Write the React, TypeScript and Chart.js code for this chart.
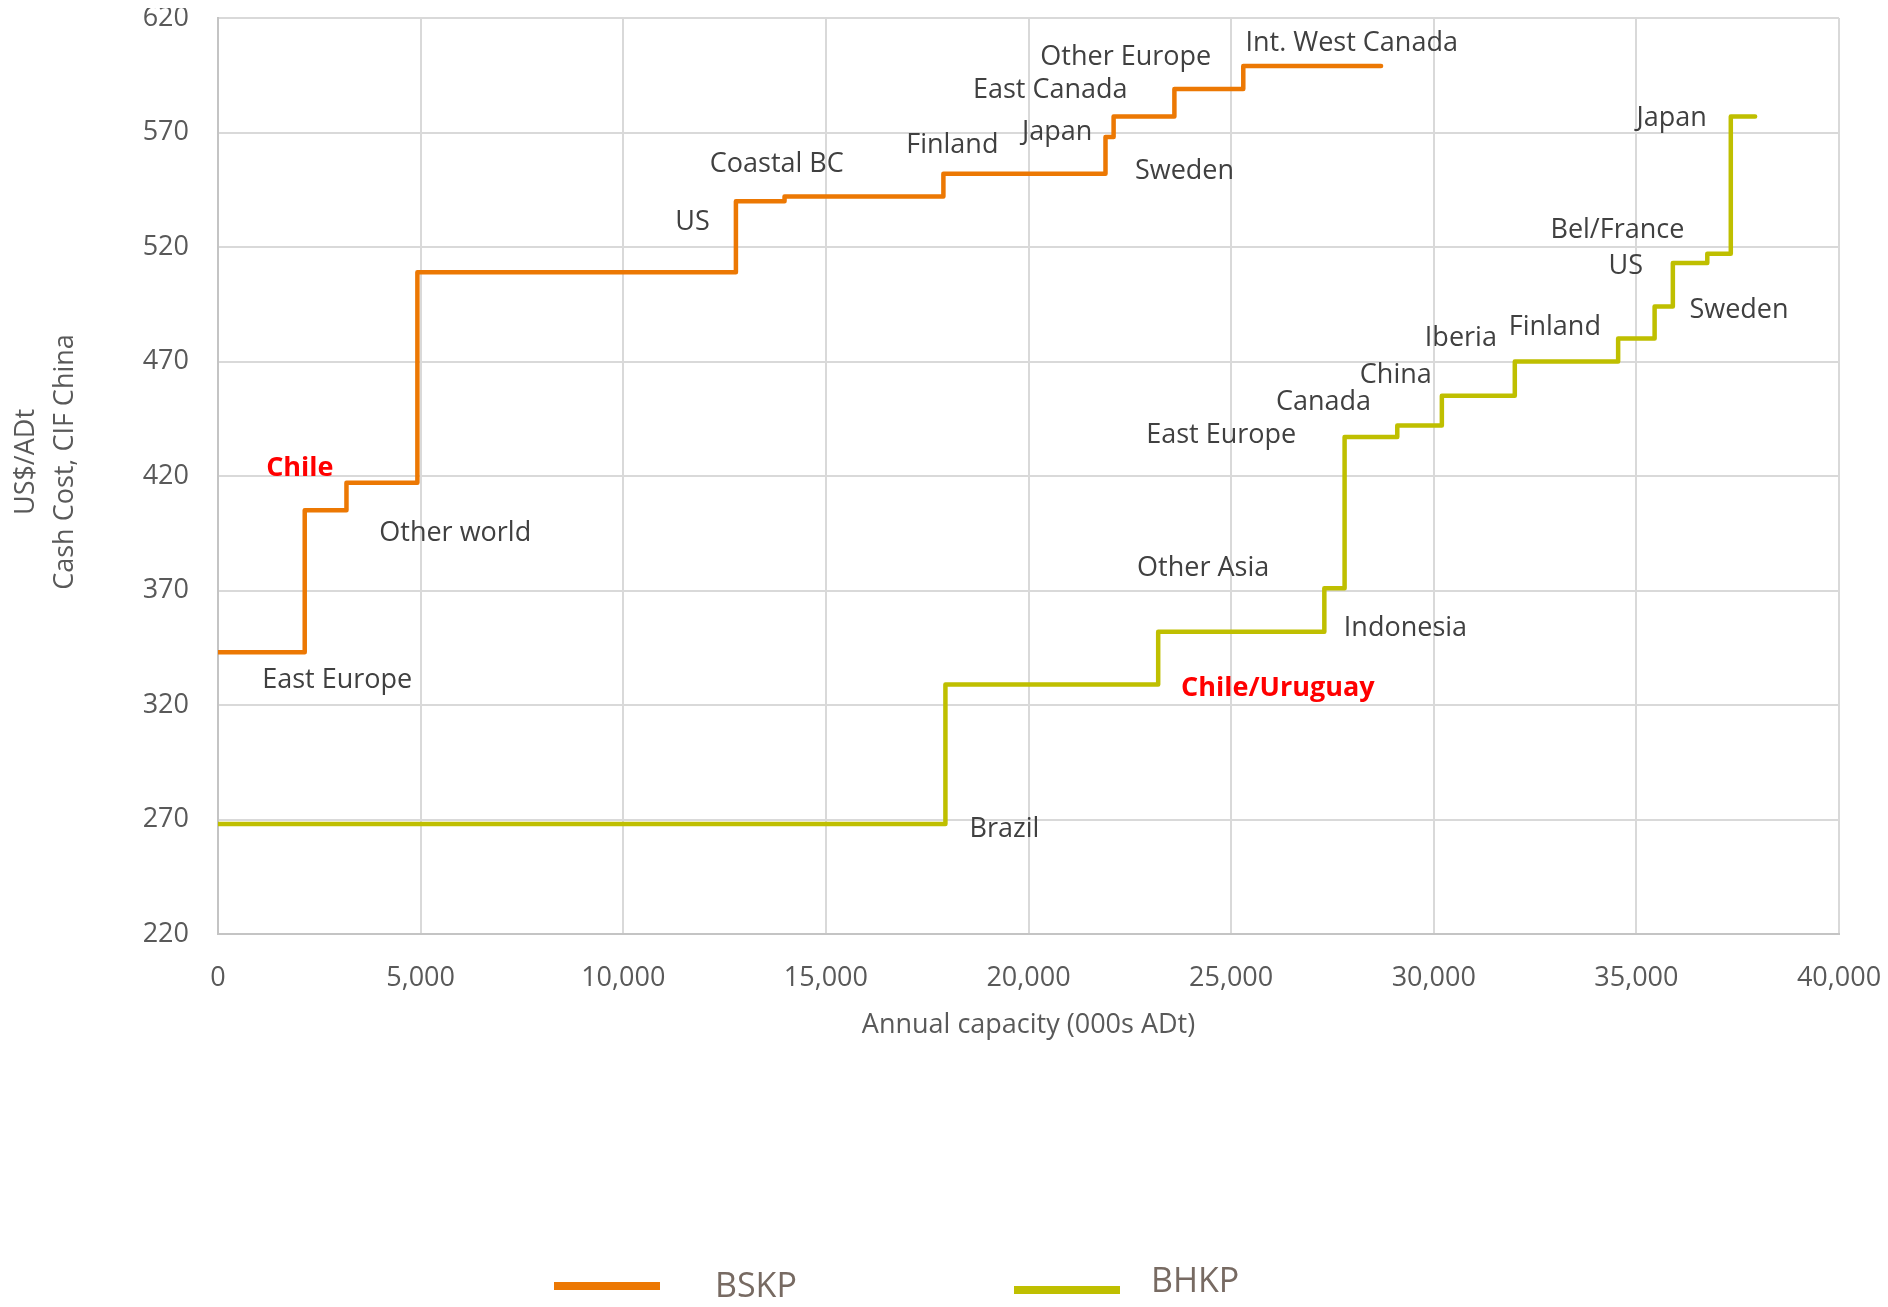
import React, { useEffect, useRef } from "react";
import { Chart, registerables } from "chart.js";

Chart.register(...registerables);

// ---------- data ----------
const seriesNames = ["BSKP", "BHKP"];

// BSKP cost curve: segment start capacity (000s ADt) and cash cost (US$/ADt); last point closes the final step
const bskpX = [0, 2140, 3170, 4920, 12780, 13980, 17900, 21900, 22100, 23600, 25300, 28700];
const bskpY = [343, 405, 417, 509, 540, 542, 552, 568, 577, 589, 599, 599];

// BHKP cost curve
const bhkpX = [0, 17950, 23200, 27300, 27800, 29100, 30200, 32000, 34550, 35450, 35900, 36750, 37330, 37930];
const bhkpY = [268, 329, 352, 371, 437, 442, 455, 470, 480, 494, 513, 517, 577, 577];

const xTicks = [0, 5000, 10000, 15000, 20000, 25000, 30000, 35000, 40000];
const yTicks = [220, 270, 320, 370, 420, 470, 520, 570, 620];

// region labels: text, capacity, cost, highlighted
const labelTexts = [
  "Chile", "Other world", "East Europe", "US", "Coastal BC", "Finland", "Japan", "East Canada",
  "Other Europe", "Int. West Canada", "Sweden",
  "Japan", "Bel/France", "US", "Sweden", "Finland", "Iberia", "China", "Canada", "East Europe",
  "Other Asia", "Indonesia", "Chile/Uruguay", "Brazil",
];
const labelXs = [
  2020, 5854, 2942, 11709, 13789, 18120, 20705, 20537,
  22400, 27975, 23850,
  35870, 34532, 34740, 37533, 32987, 30669, 29064, 27281, 24755,
  24309, 29302, 26152, 19406,
];
const labelYs = [
  424.5, 396, 332, 531.7, 557.4, 565.3, 571, 589.5,
  603.8, 610, 554,
  577.4, 528.5, 512.8, 493.3, 486, 481.2, 464.9, 453.4, 438.7,
  380.8, 354.6, 328.3, 266.8,
];
const labelHighlight = [
  true, false, false, false, false, false, false, false,
  false, false, false,
  false, false, false, false, false, false, false, false, false,
  false, false, true, false,
];

const xTitle = "Annual capacity (000s ADt)";
const yTitle = ["US$/ADt", "Cash Cost, CIF China"];

// ---------- styles ----------
const FONT = '"Open Sans", "DejaVu Sans", sans-serif';
const COLORS = ["#ec7803", "#bfbf00"];
const TEXT = "#404040";
const AXIS_TEXT = "#595959";
const W = 1872;
const H = 1291;

const regionLabelPlugin = {
  id: "regionLabels",
  afterDatasetsDraw(chart: any) {
    const { ctx, scales } = chart;
    const xs = scales.x;
    const ys = scales.y;
    ctx.save();
    ctx.textAlign = "center";
    ctx.textBaseline = "middle";
    labelTexts.forEach((t, i) => {
      const hl = labelHighlight[i];
      ctx.font = `${hl ? "bold " : ""}27px ${FONT}`;
      ctx.fillStyle = hl ? "#ff0000" : TEXT;
      ctx.fillText(t, xs.getPixelForValue(labelXs[i]), ys.getPixelForValue(labelYs[i]) + 2.5);
    });
    ctx.restore();
  },
};

const yTitlePlugin = {
  id: "yTitle",
  afterDraw(chart: any) {
    const { ctx } = chart;
    ctx.save();
    ctx.translate(0, 454);
    ctx.rotate(-Math.PI / 2);
    ctx.font = `27px ${FONT}`;
    ctx.fillStyle = AXIS_TEXT;
    ctx.textAlign = "center";
    ctx.textBaseline = "middle";
    yTitle.forEach((line, i) => {
      ctx.fillText(line, 0, 18 + i * 39);
    });
    ctx.restore();
  },
};

const legendPlugin = {
  id: "bottomLegend",
  afterDraw(chart: any) {
    const { ctx } = chart;
    const items = [
      { x: 546, y: 1278, tx: 707, ty: 1279 },
      { x: 1006, y: 1282, tx: 1143, ty: 1274 },
    ];
    ctx.save();
    chart.data.datasets.forEach((ds: any, i: number) => {
      const it = items[i];
      ctx.fillStyle = ds.borderColor;
      ctx.fillRect(it.x, it.y - 4, 106, 8);
      ctx.font = `34px ${FONT}`;
      ctx.fillStyle = "#776a62";
      ctx.textAlign = "left";
      ctx.textBaseline = "middle";
      ctx.fillText(ds.label, it.tx, it.ty);
    });
    ctx.restore();
  },
};

export default function App() {
  const ref = useRef<HTMLCanvasElement | null>(null);

  useEffect(() => {
    if (!ref.current) return;
    const toPts = (xs: number[], ys: number[]) => xs.map((x, i) => ({ x, y: ys[i] }));
    const chart = new Chart(ref.current, {
      type: "line",
      data: {
        datasets: [
          {
            label: seriesNames[0],
            data: toPts(bskpX, bskpY),
            borderColor: COLORS[0],
            backgroundColor: COLORS[0],
            borderWidth: 4.5,
            stepped: "before",
            pointRadius: 0,
            fill: false,
            borderCapStyle: "round",
            borderJoinStyle: "round",
          },
          {
            label: seriesNames[1],
            data: toPts(bhkpX, bhkpY),
            borderColor: COLORS[1],
            backgroundColor: COLORS[1],
            borderWidth: 4.5,
            stepped: "before",
            pointRadius: 0,
            fill: false,
            borderCapStyle: "round",
            borderJoinStyle: "round",
          },
        ],
      },
      options: {
        responsive: false,
        devicePixelRatio: 1,
        animation: false,
        layout: { padding: { top: 10, right: 41, bottom: 257, left: 0 } },
        plugins: {
          legend: { display: false },
          tooltip: { enabled: false },
        },
        scales: {
          x: {
            type: "linear",
            min: 0,
            max: 40000,
            afterBuildTicks: (s: any) => {
              s.ticks = xTicks.map((v) => ({ value: v }));
            },
            afterFit: (s: any) => {
              s.height = 108;
              s.paddingLeft = 0;
              s.paddingRight = 0;
            },
            ticks: {
              callback: (v: any) => Number(v).toLocaleString("en-US"),
              font: { family: FONT, size: 27 },
              color: AXIS_TEXT,
              padding: 28,
              maxRotation: 0,
              autoSkip: false,
            },
            grid: { color: "#d9d9d9", lineWidth: 2, drawTicks: false },
            border: { color: "#c4c4c4", width: 2 },
            title: {
              display: true,
              text: xTitle,
              font: { family: FONT, size: 27, lineHeight: 1.2 },
              color: AXIS_TEXT,
              padding: { top: 0, bottom: 0 },
            },
          },
          y: {
            type: "linear",
            min: 220,
            max: 620,
            afterBuildTicks: (s: any) => {
              s.ticks = yTicks.map((v) => ({ value: v }));
            },
            afterFit: (s: any) => {
              s.width = 210;
              s.paddingTop = 0;
              s.paddingBottom = 0;
            },
            ticks: {
              font: { family: FONT, size: 27 },
              color: AXIS_TEXT,
              padding: 29,
              autoSkip: false,
            },
            grid: { color: "#d9d9d9", lineWidth: 2, drawTicks: false },
            border: { color: "#c4c4c4", width: 2 },
            title: { display: false },
          },
        },
      },
      plugins: [regionLabelPlugin, yTitlePlugin, legendPlugin],
    } as any);
    return () => chart.destroy();
  }, []);

  return (
    <div style={{ width: W, height: H }}>
      <canvas ref={ref} width={W} height={H} style={{ width: W, height: H, display: "block" }} />
    </div>
  );
}
